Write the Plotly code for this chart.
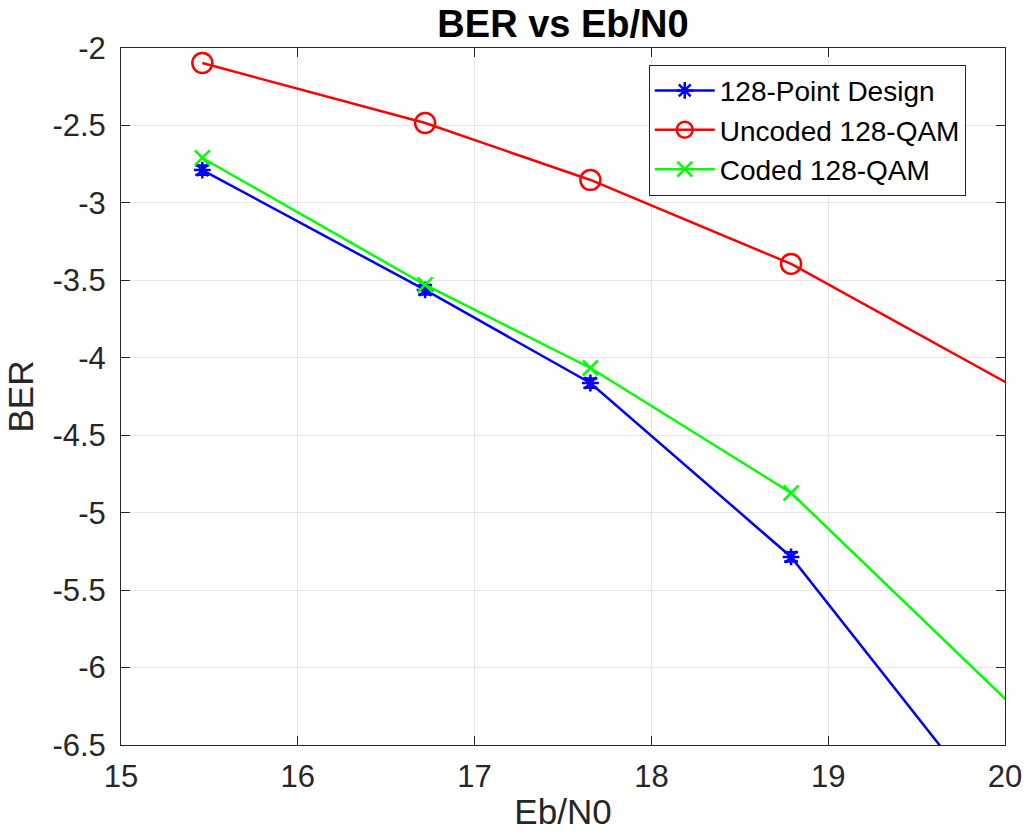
import plotly.graph_objects as go

ebn0 = [15.46, 16.72, 17.655, 18.79, 20.3]
ber_design = [-2.788, -3.562, -4.163, -5.286, -7.47]
ber_design_err = [0.03, 0.03, 0.03, 0.03, 0.03]
ber_uncoded = [-2.097, -2.484, -2.852, -3.394, -4.345]
ber_coded = [-2.71, -3.53, -4.066, -4.873, -6.53]

xticks = [15, 16, 17, 18, 19, 20]
yticks = [-6.5, -6, -5.5, -5, -4.5, -4, -3.5, -3, -2.5, -2]
yticklabels = ["-6.5", "-6", "-5.5", "-5", "-4.5", "-4", "-3.5", "-3", "-2.5", "-2"]

FONT = "Liberation Sans, Arial, Helvetica, sans-serif"

fig = go.Figure()
fig.add_trace(go.Scatter(
    x=ebn0, y=ber_design, mode="lines+markers", name="128-Point Design",
    line=dict(color="#0000ff", width=2.5),
    marker=dict(symbol="asterisk-open", size=14, color="#0000ff", line=dict(width=2.5, color="#0000ff")),
    error_y=dict(type="data", array=ber_design_err, visible=True, color="#0000ff", thickness=2.5, width=7),
))
fig.add_trace(go.Scatter(
    x=ebn0, y=ber_uncoded, mode="lines+markers", name="Uncoded 128-QAM",
    line=dict(color="#ff0000", width=2.5),
    marker=dict(symbol="circle-open", size=20, color="#ff0000", line=dict(width=2.5, color="#ff0000")),
))
fig.add_trace(go.Scatter(
    x=ebn0, y=ber_coded, mode="lines+markers", name="Coded 128-QAM",
    line=dict(color="#00ff00", width=2.5),
    marker=dict(symbol="x-thin-open", size=15, color="#00ff00", line=dict(width=2.5, color="#00ff00")),
))

axis_common = dict(
    showline=True, linecolor="#262626", linewidth=1, mirror="ticks",
    ticks="inside", ticklen=9, tickcolor="#262626", tickwidth=1,
    showgrid=True, gridcolor="#e6e6e6", gridwidth=1, zeroline=False,
    tickfont=dict(family=FONT, size=31, color="#262626"),
    automargin=False,
)

fig.update_layout(
    width=1028, height=838,
    margin=dict(l=121, r=23, t=48, b=93),
    paper_bgcolor="white", plot_bgcolor="white",
    title=dict(text="<b>BER vs Eb/N0</b>", x=(121 + 1005) / 2 / 1028, xanchor="center",
               y=1 - 24 / 838, yanchor="middle", yref="container",
               font=dict(family=FONT, size=38, color="black")),
    xaxis=dict(range=[15, 20], tickvals=xticks, ticklabelstandoff=4,
               title=dict(text="Eb/N0", font=dict(family=FONT, size=35, color="#262626"), standoff=6),
               **axis_common),
    yaxis=dict(range=[-6.5, -2], tickvals=yticks, ticktext=yticklabels, ticklabelstandoff=8,
               title=dict(text="BER", font=dict(family=FONT, size=35, color="#262626"), standoff=8),
               **axis_common),
    legend=dict(x=0.597, y=0.976, xanchor="left", yanchor="top",
                bgcolor="white", bordercolor="#262626", borderwidth=1,
                font=dict(family=FONT, size=28, color="black"), itemwidth=60),
    showlegend=True,
)

fig.write_html("out.html")
